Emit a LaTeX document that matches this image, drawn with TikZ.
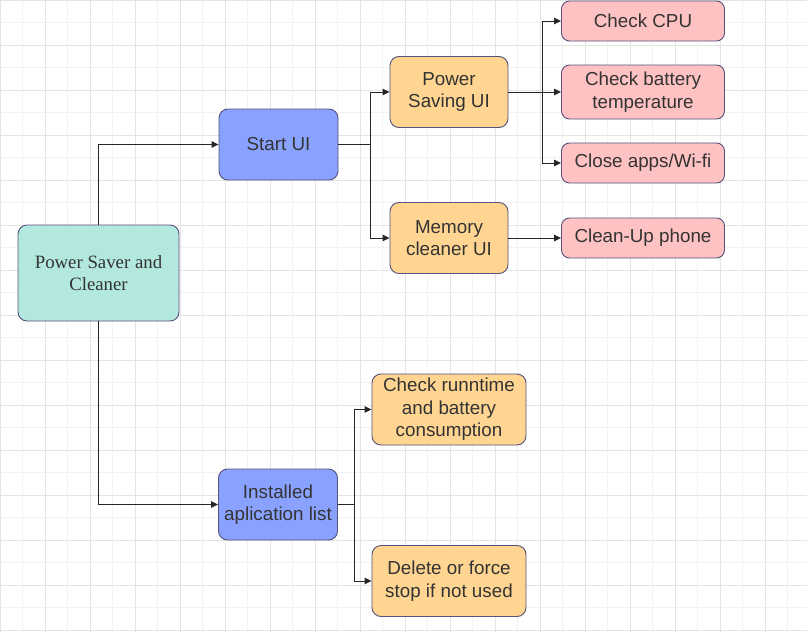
\documentclass[tikz,border=0pt]{standalone}
\usepackage{fontspec}
\setmainfont{Liberation Sans}
\newfontfamily\rootfont{Liberation Serif}
\usetikzlibrary{arrows.meta,positioning,calc}
\definecolor{GridMinor}{HTML}{F2F2F2}
\definecolor{GridMajor}{HTML}{E4E4E4}
\definecolor{BoxLine}{HTML}{56517E}
\definecolor{BoxText}{HTML}{333333}
\definecolor{RootTeal}{HTML}{B3E8DF}
\definecolor{UiBlue}{HTML}{8AA2FF}
\definecolor{StepOrange}{HTML}{FFD591}
\definecolor{TaskPink}{HTML}{FFC2C2}
\tikzset{box/.style={draw=BoxLine,line width=0.9pt,rounded corners=9pt,align=center,text=BoxText,font=\fontsize{18.8}{22.6}\selectfont,inner sep=0pt},
  rootbox/.style={box,fill=RootTeal,minimum width=161,minimum height=96,font=\rootfont\fontsize{18.8}{22.6}\selectfont},
  uibox/.style={box,fill=UiBlue,minimum width=119,minimum height=71},
  stepbox/.style={box,fill=StepOrange,minimum width=118,minimum height=71},
  taskbox/.style={box,fill=TaskPink,rounded corners=8pt,minimum width=163,minimum height=40},
  arr/.style={-{Triangle[length=7pt,width=6.5pt]},line width=0.9pt,black!85}}
\begin{document}
\begin{tikzpicture}[x=1pt,y=-1pt]
\useasboundingbox (0,0) rectangle (807,632);
\foreach \g in {22.5,67.5,...,800} {\draw[GridMinor,line width=0.8pt] (\g,0)--(\g,632); \draw[GridMinor,line width=0.8pt] (0,\g)--(807,\g);}
\foreach \g in {0,45,...,800} {\draw[GridMajor,line width=0.8pt] (\g,0)--(\g,632); \draw[GridMajor,line width=0.8pt] (0,\g)--(807,\g);}
\node[rootbox] (root) at (98.5,273) {Power Saver and\\Cleaner};
\node[uibox] (startui) at (278.5,144.5) {Start UI};
\node[uibox] (instlist) at (278,504.5) {Installed\\aplication list};
\node[stepbox] (powerui) at (449,92) {Power\\Saving UI};
\node[stepbox] (memui) at (449,238) {Memory\\cleaner UI};
\node[taskbox] (cpu) at (643,21) {Check CPU};
\node[taskbox,minimum height=54] (battery) at (643,92) {Check battery\\temperature};
\node[taskbox] (closeapps) at (643,163) {Close apps/Wi-fi};
\node[taskbox] (cleanup) at (643,238) {Clean-Up phone};
\node[stepbox,minimum width=154] (runtime) at (449,409.5) {Check runntime\\and battery\\consumption};
\node[stepbox,minimum width=154] (delete) at (449,581) {Delete or force\\stop if not used};
\draw[arr] (root.north)|-(startui.west); \draw[arr] (root.south)|-(instlist.west);
\draw[arr] (startui.east)--++(32,0)|-(powerui.west);
\draw[arr] (startui.east)--++(32,0)|-(memui.west);
\draw[arr] (powerui.east)--++(34,0)|-(cpu.west);
\draw[arr] (powerui)--(battery);
\draw[arr] (powerui.east)--++(34,0)|-(closeapps.west);
\draw[arr] (memui)--(cleanup);
\draw[arr] (instlist.east)--++(16,0)|-(runtime.west);
\draw[arr] (instlist.east)--++(16,0)|-(delete.west);
\end{tikzpicture}
\end{document}
